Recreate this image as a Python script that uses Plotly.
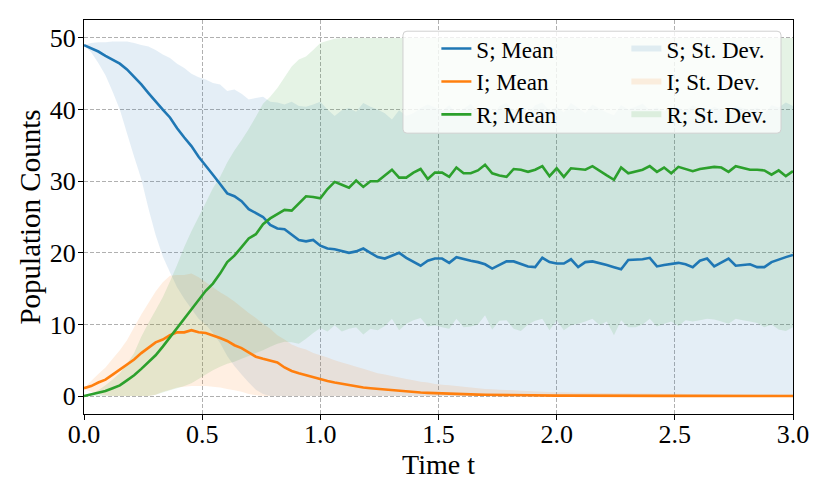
import numpy as np
import plotly.graph_objects as go

# time grid: 100 samples between 0 and 3
t = np.linspace(0, 3, 100)

s_mean = [
    49.0, 48.6, 48.1, 47.5, 46.9, 46.4, 45.6, 44.6, 43.5, 42.3,
    41.1, 40.0, 38.9, 37.4, 36.1, 34.9, 33.4, 32.2, 30.9, 29.6,
    28.3, 27.9, 27.2, 26.1, 25.5, 25.0, 23.9, 23.4, 23.3, 22.5,
    21.8, 21.6, 21.8, 21.0, 20.6, 20.5, 20.2, 20.0, 20.2, 20.6,
    20.0, 19.4, 19.2, 19.6, 20.0, 19.3, 18.7, 18.2, 18.9, 19.2,
    19.2, 18.6, 19.4, 19.1, 18.9, 18.7, 18.4, 17.8, 18.3, 18.8,
    18.8, 18.5, 18.1, 18.0, 19.3, 18.7, 18.5, 18.5, 19.1, 18.0,
    18.7, 18.8, 18.6, 18.3, 18.0, 17.7, 19.0, 19.0, 19.1, 19.3,
    18.1, 18.3, 18.5, 18.6, 18.4, 18.0, 18.9, 19.2, 18.1, 18.7,
    19.2, 18.2, 18.3, 18.4, 18.0, 18.0, 18.7, 19.1, 19.4, 19.7,
]
i_mean = [
    1.1, 1.4, 1.9, 2.3, 3.0, 3.7, 4.4, 5.1, 6.0, 6.7,
    7.5, 7.9, 8.5, 8.9, 8.9, 9.2, 8.9, 8.8, 8.5, 8.1,
    7.7, 7.1, 6.7, 6.1, 5.5, 5.2, 4.9, 4.7, 4.0, 3.5,
    3.2, 2.9, 2.6, 2.3, 2.1, 1.9, 1.7, 1.5, 1.4, 1.2,
    1.1, 1.0, 0.9, 0.8, 0.75, 0.65, 0.6, 0.5, 0.45, 0.4,
    0.35, 0.3, 0.28, 0.25, 0.22, 0.2, 0.18, 0.16, 0.15, 0.13,
    0.12, 0.11, 0.1, 0.09, 0.08, 0.08, 0.07, 0.07, 0.06, 0.06,
    0.05, 0.05, 0.05, 0.04, 0.04, 0.04, 0.04, 0.03, 0.03, 0.03,
    0.03, 0.03, 0.03, 0.02, 0.02, 0.02, 0.02, 0.02, 0.02, 0.02,
    0.02, 0.02, 0.01, 0.01, 0.01, 0.01, 0.01, 0.01, 0.01, 0.01,
]
r_mean = [
    0.0, 0.2, 0.4, 0.7, 1.1, 1.5, 2.2, 2.9, 3.8, 4.7,
    5.7, 6.9, 8.2, 9.5, 10.7, 12.1, 13.4, 14.7, 15.7, 17.1,
    18.7, 19.6, 20.8, 22.0, 22.6, 24.0, 24.8, 25.4, 26.0, 25.9,
    26.9, 27.9, 27.8, 27.6, 28.9, 29.9, 29.5, 29.1, 30.1, 29.2,
    30.0, 30.0, 30.8, 31.6, 30.5, 30.5, 31.2, 31.7, 30.3, 31.2,
    31.2, 30.6, 31.9, 31.1, 31.1, 31.5, 32.3, 31.1, 30.8, 30.6,
    31.7, 31.6, 31.3, 31.6, 32.1, 30.7, 31.8, 30.6, 31.8, 31.7,
    31.6, 32.1, 31.4, 30.8, 30.2, 31.9, 31.1, 31.3, 31.6, 32.1,
    31.3, 31.9, 31.1, 32.0, 31.7, 31.4, 31.7, 31.8, 32.0, 31.9,
    31.3, 32.1, 31.8, 31.6, 31.6, 31.5, 30.9, 31.5, 30.7, 31.4,
]

# mean +/- st. dev., clipped to [0, 50]
s_upper = [
    49.0, 49.3, 49.4, 49.4, 49.5, 49.5, 49.5, 49.3, 49.0, 48.8,
    48.3, 47.7, 47.2, 46.4, 45.8, 45.0, 44.5, 44.2, 43.7, 43.5,
    42.6, 42.8, 42.2, 41.4, 41.6, 41.8, 41.1, 41.0, 40.7, 41.1,
    40.5, 40.4, 40.7, 41.1, 40.0, 39.1, 39.9, 40.2, 39.7, 40.9,
    40.4, 40.0, 39.5, 38.6, 39.9, 39.1, 39.5, 40.2, 40.7, 40.3,
    39.8, 40.6, 39.4, 40.1, 40.8, 39.6, 40.2, 39.0, 40.5, 40.9,
    39.7, 40.3, 39.5, 40.6, 41.0, 39.8, 40.4, 39.6, 40.9, 40.2,
    39.5, 40.7, 40.1, 39.6, 39.2, 40.6, 40.0, 40.4, 40.8, 39.9,
    40.3, 39.7, 40.5, 40.2, 39.8, 40.6, 40.1, 39.7, 40.4, 40.0,
    39.6, 40.5, 40.2, 39.9, 40.3, 39.4, 40.6, 40.3, 41.0, 40.5,
]
s_lower = [
    49.0, 48.0, 46.5, 44.8, 42.5, 40.0, 36.7, 33.4, 30.3, 26.2,
    22.5, 19.5, 17.3, 15.2, 13.6, 12.2, 10.8, 10.0, 8.8, 7.4,
    5.6, 4.2, 3.0, 1.9, 0.9, 0.3, 0.0, 0.0, 0.0, 0.0,
    0.0, 0.0, 0.0, 0.0, 0.0, 0.0, 0.0, 0.0, 0.0, 0.0,
    0.0, 0.0, 0.0, 0.0, 0.0, 0.0, 0.0, 0.0, 0.0, 0.0,
    0.0, 0.0, 0.0, 0.0, 0.0, 0.0, 0.0, 0.0, 0.0, 0.0,
    0.0, 0.0, 0.0, 0.0, 0.0, 0.0, 0.0, 0.0, 0.0, 0.0,
    0.0, 0.0, 0.0, 0.0, 0.0, 0.0, 0.0, 0.0, 0.0, 0.0,
    0.0, 0.0, 0.0, 0.0, 0.0, 0.0, 0.0, 0.0, 0.0, 0.0,
    0.0, 0.0, 0.0, 0.0, 0.0, 0.0, 0.0, 0.0, 0.0, 0.0,
]
i_upper = [
    1.1, 2.1, 3.1, 4.0, 5.2, 6.4, 7.8, 9.6, 11.4, 13.0,
    14.6, 15.9, 16.8, 16.9, 16.9, 17.1, 16.6, 15.9, 15.2, 14.5,
    13.9, 13.2, 12.4, 11.6, 10.9, 10.1, 9.4, 8.5, 7.9, 7.2,
    6.8, 6.5, 6.0, 5.7, 5.4, 5.0, 4.7, 4.4, 4.1, 3.8,
    3.5, 3.2, 3.0, 2.8, 2.6, 2.4, 2.2, 2.0, 1.9, 1.7,
    1.6, 1.5, 1.4, 1.3, 1.2, 1.1, 1.0, 0.95, 0.9, 0.85,
    0.8, 0.75, 0.7, 0.65, 0.6, 0.58, 0.55, 0.52, 0.5, 0.48,
    0.46, 0.45, 0.43, 0.42, 0.40, 0.39, 0.38, 0.37, 0.36, 0.35,
    0.34, 0.33, 0.32, 0.31, 0.30, 0.30, 0.29, 0.28, 0.28, 0.27,
    0.27, 0.26, 0.26, 0.25, 0.25, 0.24, 0.24, 0.23, 0.23, 0.22,
]
i_lower = [
    1.0, 0.6, 0.3, 0.1, 0.0, 0.0, 0.0, 0.0, 0.0, 0.0,
    0.2, 0.6, 0.9, 1.2, 1.3, 1.4, 1.4, 1.4, 1.3, 1.2,
    1.0, 0.8, 0.6, 0.3, 0.1, 0.0, 0.0, 0.0, 0.0, 0.0,
    0.0, 0.0, 0.0, 0.0, 0.0, 0.0, 0.0, 0.0, 0.0, 0.0,
    0.0, 0.0, 0.0, 0.0, 0.0, 0.0, 0.0, 0.0, 0.0, 0.0,
    0.0, 0.0, 0.0, 0.0, 0.0, 0.0, 0.0, 0.0, 0.0, 0.0,
    0.0, 0.0, 0.0, 0.0, 0.0, 0.0, 0.0, 0.0, 0.0, 0.0,
    0.0, 0.0, 0.0, 0.0, 0.0, 0.0, 0.0, 0.0, 0.0, 0.0,
    0.0, 0.0, 0.0, 0.0, 0.0, 0.0, 0.0, 0.0, 0.0, 0.0,
    0.0, 0.0, 0.0, 0.0, 0.0, 0.0, 0.0, 0.0, 0.0, 0.0,
]
r_upper = [
    0.0, 0.3, 0.8, 1.5, 2.3, 3.2, 4.5, 6.0, 8.3, 10.2,
    12.0, 13.8, 16.0, 18.3, 20.8, 23.0, 25.0, 27.0, 29.0, 30.6,
    32.6, 34.3, 35.7, 37.3, 39.0, 40.8, 41.8, 43.0, 44.5, 46.0,
    47.0, 47.4, 48.3, 49.3, 49.6, 49.9, 50.0, 50.0, 50.0, 50.0,
    50.0, 50.0, 50.0, 50.0, 50.0, 50.0, 50.0, 50.0, 50.0, 50.0,
    50.0, 50.0, 50.0, 50.0, 50.0, 50.0, 50.0, 50.0, 50.0, 50.0,
    50.0, 50.0, 50.0, 50.0, 50.0, 50.0, 50.0, 50.0, 50.0, 50.0,
    50.0, 50.0, 50.0, 50.0, 50.0, 50.0, 50.0, 50.0, 50.0, 50.0,
    50.0, 50.0, 50.0, 50.0, 50.0, 50.0, 50.0, 50.0, 50.0, 50.0,
    50.0, 50.0, 50.0, 50.0, 50.0, 50.0, 50.0, 50.0, 50.0, 50.0,
]
r_lower = [
    0.0, 0.0, 0.0, 0.0, 0.0, 0.0, 0.0, 0.0, 0.0, 0.0,
    0.2, 0.5, 0.8, 1.1, 1.4, 1.8, 2.4, 3.0, 3.6, 4.1,
    4.5, 4.8, 5.2, 5.6, 6.0, 6.4, 6.9, 7.3, 7.6, 7.5,
    7.3, 8.0, 8.8, 9.5, 9.0, 9.9, 9.0, 9.4, 9.6, 8.6,
    9.4, 9.2, 9.8, 10.8, 9.2, 10.1, 10.6, 10.9, 9.7, 9.9,
    9.6, 9.4, 10.8, 9.6, 9.7, 10.0, 11.3, 9.3, 10.5, 10.6,
    9.4, 9.1, 10.0, 10.5, 10.8, 9.2, 10.6, 9.2, 9.9, 10.1,
    10.4, 10.8, 9.9, 10.4, 8.5, 10.6, 9.6, 9.6, 10.0, 10.8,
    9.7, 10.1, 10.4, 9.8, 10.6, 10.4, 10.6, 10.8, 10.7, 10.4,
    10.1, 10.8, 10.6, 10.4, 10.2, 9.6, 10.0, 9.3, 9.1, 9.6,
]

colors = {'S': '#1f77b4', 'I': '#ff7f0e', 'R': '#2ca02c'}
fills = {'S': 'rgba(31,119,180,0.12)', 'I': 'rgba(255,127,14,0.12)',
         'R': 'rgba(44,160,44,0.12)'}
means = {'S': s_mean, 'I': i_mean, 'R': r_mean}
bands = {'S': (s_lower, s_upper), 'I': (i_lower, i_upper), 'R': (r_lower, r_upper)}

FONT = 'Liberation Serif'

fig = go.Figure()

# st. dev. bands first, so the mean lines sit on top
for k in ['S', 'I', 'R']:
    lo, hi = bands[k]
    fig.add_trace(go.Scatter(
        x=np.concatenate([t, t[::-1]]),
        y=np.concatenate([np.array(hi), np.array(lo)[::-1]]),
        fill='toself', fillcolor=fills[k], mode='none',
        name=k + '; St. Dev.', legend='legend2', hoverinfo='skip'))

for k in ['S', 'I', 'R']:
    fig.add_trace(go.Scatter(
        x=t, y=means[k], mode='lines',
        line=dict(color=colors[k], width=2.6),
        name=k + '; Mean', legend='legend'))

axis_common = dict(
    showline=True, linecolor='black', linewidth=1.2, mirror=True,
    ticks='outside', ticklen=5, tickwidth=1, tickcolor='black',
    showgrid=True, gridcolor='#b0b0b0', gridwidth=0.8, griddash='4px,2px',
    zeroline=False, automargin=False,
    tickfont=dict(family=FONT, size=26, color='black'),
)

fig.update_xaxes(range=[0, 3], dtick=0.5, tick0=0, tickformat='.1f',
                 ticklabelstandoff=-8,
                 title=dict(text='Time t', font=dict(family=FONT, size=28, color='black'),
                            standoff=0),
                 **axis_common)
fig.update_yaxes(range=[-2.5, 52.5], dtick=10, tick0=0,
                 ticklabelstandoff=-3,
                 title=dict(text='Population Counts',
                            font=dict(family=FONT, size=29, color='black'), standoff=0),
                 **axis_common)

# legend frame (two legends share one rounded box, like a 2-column legend)
x0, x1, y0, y1 = 0.4499, 0.9831, 0.7128, 0.9716
rx, ry = 0.0056, 0.0101
frame = (f'M {x0+rx},{y1} L {x1-rx},{y1} Q {x1},{y1} {x1},{y1-ry} '
         f'L {x1},{y0+ry} Q {x1},{y0} {x1-rx},{y0} L {x0+rx},{y0} '
         f'Q {x0},{y0} {x0},{y0+ry} L {x0},{y1-ry} Q {x0},{y1} {x0+rx},{y1} Z')
fig.add_shape(type='path', path=frame, xref='paper', yref='paper', layer='above',
              fillcolor='rgba(255,255,255,0.8)', line=dict(color='#d0d0d0', width=1))

legend_common = dict(bgcolor='rgba(0,0,0,0)', borderwidth=0,
                     font=dict(family=FONT, size=23, color='black'),
                     yanchor='top', xanchor='left', tracegroupgap=0)

# the page adds an 8px body margin, so the figure is 16px smaller than the window
fig.update_layout(
    width=814, height=482,
    margin=dict(l=76, r=29, t=12, b=76),
    plot_bgcolor='white', paper_bgcolor='white',
    font=dict(family=FONT, color='black'),
    legend=dict(x=0.497, y=0.982, **legend_common),
    legend2=dict(x=0.765, y=0.982, **legend_common),
    showlegend=True,
)

fig.write_html('out.html', config={'displayModeBar': False})
